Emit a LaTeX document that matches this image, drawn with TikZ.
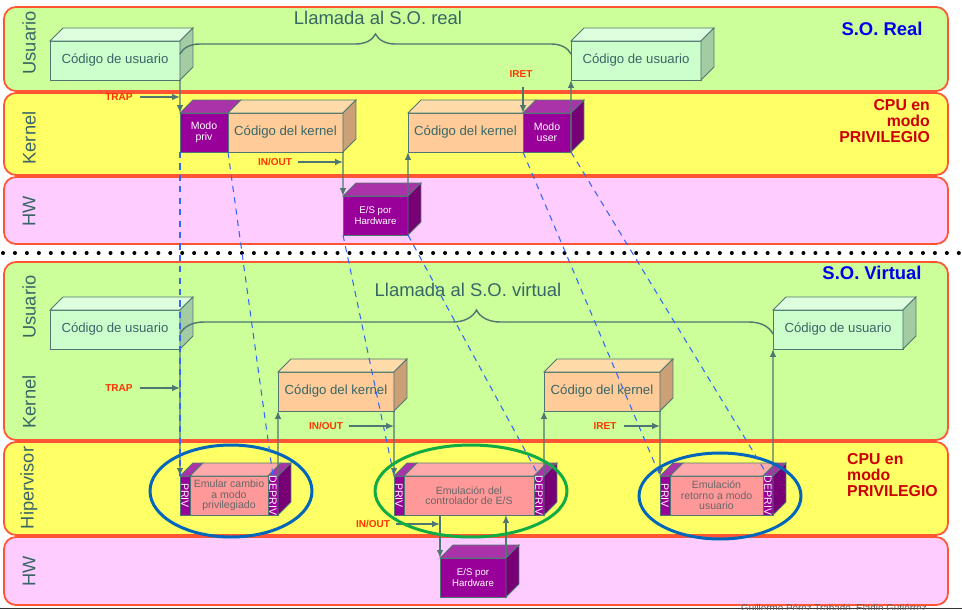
\documentclass[tikz,border=0pt]{standalone}
\usepackage{fontspec}
\setmainfont{Liberation Sans}
\usetikzlibrary{positioning,arrows.meta,decorations.pathreplacing}

\definecolor{verde}{RGB}{204,255,153}
\definecolor{amarillo}{RGB}{255,255,102}
\definecolor{rosa}{RGB}{255,204,255}
\definecolor{borde}{RGB}{255,85,51}
\definecolor{textoc}{RGB}{56,102,102}
\definecolor{linea}{RGB}{77,119,112}
\definecolor{ufront}{RGB}{204,255,204}
\definecolor{utop}{RGB}{221,255,221}
\definecolor{uside}{RGB}{163,204,163}
\definecolor{kfront}{RGB}{255,204,153}
\definecolor{ktop}{RGB}{255,219,170}
\definecolor{kside}{RGB}{204,160,119}
\definecolor{pfront}{RGB}{153,0,153}
\definecolor{ptop}{RGB}{170,51,170}
\definecolor{pside}{RGB}{119,0,119}
\definecolor{hfront}{RGB}{255,153,153}
\definecolor{htop}{RGB}{255,170,170}
\definecolor{azul}{RGB}{0,102,187}
\definecolor{verdeo}{RGB}{17,170,68}
\definecolor{trazo}{RGB}{51,102,255}
\definecolor{rojoet}{RGB}{255,51,0}
\definecolor{rojocpu}{RGB}{204,0,0}
\definecolor{azulso}{RGB}{0,0,238}

% caras de las cajas 3D
\newcommand{\tapa}[2]{\filldraw[draw=linea,line width=0.5pt,fill=#2] (#1.north west) -- ++(13,-13) -- ([shift={(13,-13)}]#1.north east) -- (#1.north east) -- cycle;}
\newcommand{\lado}[2]{\filldraw[draw=linea,line width=0.5pt,fill=#2] (#1.north east) -- ++(13,-13) -- ([shift={(13,-13)}]#1.south east) -- (#1.south east) -- cycle;}

\tikzset{
  banda/.style={draw=borde, line width=1pt, rounded corners=6.8pt},
  puntos/.style={line width=2.3pt, line cap=round, dash pattern=on 0pt off 6.8pt},
  etiq/.style={rotate=90, text=textoc, font=\fontsize{10.4}{12}\selectfont},
  titulo/.style={text=textoc, font=\fontsize{10.5}{12}\selectfont},
  so/.style={text=azulso, font=\bfseries\fontsize{10.5}{12}\selectfont},
  cpu/.style={text=rojocpu, font=\bfseries\fontsize{9}{9}\selectfont},
  rojo/.style={text=rojoet, inner sep=1pt, font=\bfseries\fontsize{5.7}{6}\selectfont},
  caja/.style={draw=linea, line width=0.5pt, inner sep=0pt, outer sep=0pt, anchor=north west,
    minimum height=0.78cm, align=center, text=textoc, font=\fontsize{7.5}{9}\selectfont},
  usr/.style={caja, fill=ufront, minimum width=2.6cm},
  ker/.style={caja, fill=kfront, minimum width=2.3cm},
  mod/.style={caja, fill=pfront, text=white, minimum width=0.96cm, font=\fontsize{6}{6}\selectfont},
  hw/.style={caja, fill=pfront, text=white, minimum width=1.3cm, font=\fontsize{5.5}{5.8}\selectfont},
  tira/.style={caja, fill=pfront, minimum width=0.2cm},
  emu/.style={caja, fill=hfront, text=black!60, font=\fontsize{6}{6}\selectfont},
  vtexto/.style={rotate=-90, text=white, inner sep=0pt, font=\fontsize{6}{6}\selectfont},
  flecha/.style={draw=linea, line width=0.8pt, ->},
  llave/.style={draw=linea, line width=0.8pt, decorate, decoration={brace, amplitude=0.4cm}},
  elipse/.style={line width=1.7pt},
  trazos/.style={draw=trazo, line width=0.6pt, dash pattern=on 3.5pt off 3pt},
}

\begin{document}
\begin{tikzpicture}[>={Latex[length=4.5pt,width=3.8pt]}, x=0.02cm, y=-0.02cm]
   \useasboundingbox (0,0) rectangle (962,609);

   % bandas
   \draw[banda, fill=verde] (4,7) rectangle (948,91);
   \draw[banda, fill=amarillo] (4,93) rectangle (948,175);
   \draw[banda, fill=rosa] (4,177) rectangle (948,244);
   \draw[puntos] (3,253) -- (962,253);
   \draw[banda, fill=verde] (4,262) rectangle (948,440);
   \draw[banda, fill=amarillo] (4,442) rectangle (948,535);
   \draw[banda, fill=rosa] (4,537) rectangle (948,605);
   \draw[black!80, line width=0.8pt] (0,608.5) -- (962,608.5);

   \node[etiq] (l1) at (29,43) {Usuario};
   \node[etiq] (l2) at (29,138) {Kernel};
   \node[etiq] (l3) at (29,211) {HW};
   \node[etiq] (l4) at (29,307) {Usuario};
   \node[etiq] (l5) at (29,402) {Kernel};
   \node[etiq] (l6) at (29,488) {Hipervisor};
   \node[etiq] (l7) at (29,571) {HW};

   \node[so] (so1) at (882,29) {S.O. Real};
   \node[cpu, align=right, anchor=east] (cpu1) at (936,121) {CPU en\\modo\\PRIVILEGIO};
   \node[so] (so2) at (872,273) {S.O. Virtual};
   \node[cpu, align=left, anchor=west] (cpu2) at (841,475) {CPU en\\modo\\PRIVILEGIO};

   % S.O. real
   \node[usr] (u1) at (50,41) {Código de usuario};
   \node[usr] (u2) at (571,41) {Código de usuario};
   \node[mod] (mp) at (180,113) {Modo\\priv};
   \node[ker, right=0pt of mp] (kc1) {Código del kernel};
   \node[ker] (kc2) at (408,113) {Código del kernel};
   \node[mod, right=0pt of kc2] (mu) {Modo\\user};
   \node[hw] (es1) at (343,196) {E/S por\\Hardware};
   \tapa{u1}{utop} \lado{u1}{uside}
   \tapa{u2}{utop} \lado{u2}{uside}
   \tapa{mp}{ptop} \tapa{kc1}{ktop} \lado{kc1}{kside}
   \tapa{kc2}{ktop} \tapa{mu}{ptop} \lado{mu}{pside}
   \tapa{es1}{ptop} \lado{es1}{pside}

   % S.O. virtual
   \node[usr] (v1) at (50,310) {Código de usuario};
   \node[usr] (v2) at (773,310) {Código de usuario};
   \node[ker, minimum width=2.32cm] (vk1) at (278,372) {Código del kernel};
   \node[ker, minimum width=2.32cm] (vk2) at (544,372) {Código del kernel};
   \node[tira] (p1) at (180,476) {};
   \node[emu, minimum width=1.56cm, right=0pt of p1] (b1) {Emular cambio\\a modo\\privilegiado};
   \node[tira, right=0pt of b1] (d1) {};
   \node[tira] (p2) at (394,476) {};
   \node[emu, minimum width=2.6cm, right=0pt of p2] (b2) {Emulación del\\controlador de E/S};
   \node[tira, right=0pt of b2] (d2) {};
   \node[tira] (p3) at (660,476) {};
   \node[emu, minimum width=1.86cm, right=0pt of p3] (b3) {Emulación\\retorno a modo\\usuario};
   \node[tira, right=0pt of b3] (d3) {};
   \node[hw, minimum width=1.32cm] (es2) at (440,558) {E/S por\\Hardware};
   \tapa{v1}{utop} \lado{v1}{uside}
   \tapa{v2}{utop} \lado{v2}{uside}
   \tapa{vk1}{ktop} \lado{vk1}{kside}
   \tapa{vk2}{ktop} \lado{vk2}{kside}
   \tapa{p1}{ptop} \tapa{b1}{htop} \tapa{d1}{ptop} \lado{d1}{pside}
   \tapa{p2}{ptop} \tapa{b2}{htop} \tapa{d2}{ptop} \lado{d2}{pside}
   \tapa{p3}{ptop} \tapa{b3}{htop} \tapa{d3}{ptop} \lado{d3}{pside}
   \tapa{es2}{ptop} \lado{es2}{pside}
   \node[vtexto] (tp1) at (p1.center) {PRIV};
   \node[vtexto] (td1) at (d1.center) {DEPRIV};
   \node[vtexto] (tp2) at (p2.center) {PRIV};
   \node[vtexto] (td2) at (d2.center) {DEPRIV};
   \node[vtexto] (tp3) at (p3.center) {PRIV};
   \node[vtexto] (td3) at (d3.center) {DEPRIV};

   % llamadas
   \draw[llave] (u1.east |- 0,54) -- (u2.west |- 0,54);
   \node[titulo] (ll1) at (378,18) {Llamada al S.O. real};
   \draw[llave, decoration={brace, amplitude=0.48cm}] (v1.east |- 0,334) -- (v2.west |- 0,334);
   \node[titulo] (ll2) at (468,290) {Llamada al S.O. virtual};

   % flujo real
   \node[rojo] (trap1) at (119,97) {TRAP};
   \node[rojo] (io1) at (275,162) {IN/OUT};
   \node[rojo] (iret1) at (521,74) {IRET};
   \draw[flecha] (u1.south east) -- (mp.north west);
   \draw[flecha] ([xshift=3pt]trap1.east) -- (trap1.east -| mp.west);
   \draw[flecha] ([xshift=2pt]io1.east) -- (io1.east -| kc1.east);
   \draw[flecha] (kc1.south east) -- (es1.north west);
   \draw[flecha] (es1.north east) -- (kc2.south west);
   \draw[flecha] ([yshift=-4pt]iret1.south -| mu.west) -- (mu.north west);
   \draw[flecha] (mu.south east) -- (u2.south west);

   % flujo virtual
   \node[rojo] (trap2) at (119,388) {TRAP};
   \node[rojo] (io2) at (326,426) {IN/OUT};
   \node[rojo] (iret2) at (605,426) {IRET};
   \node[rojo] (io3) at (373,524) {IN/OUT};
   \draw[flecha] (v1.south east) -- (p1.north west);
   \draw[flecha] ([xshift=3pt]trap2.east) -- (trap2.east -| p1.west);
   \draw[flecha] (d1.north east) -- (vk1.south west);
   \draw[flecha] ([xshift=2pt]io2.east) -- (io2.east -| vk1.east);
   \draw[flecha] (vk1.south east) -- (p2.north west);
   \draw[flecha] (d2.north east) -- (vk2.south west);
   \draw[flecha] ([xshift=3pt]iret2.east) -- (iret2.east -| vk2.east);
   \draw[flecha] (vk2.south east) -- (p3.north west);
   \draw[flecha] (d3.north east) -- (v2.south west);
   \draw[flecha] ([xshift=2pt]io3.east) -- (io3.east -| es2.west);
   \draw[flecha] (b2.south -| es2.west) -- (es2.north west);
   \draw[flecha] (es2.north east) -- (b2.south -| es2.east);

   \draw[elipse, draw=azul] (231,491) ellipse [x radius=1.62cm, y radius=0.92cm];
   \draw[elipse, draw=verdeo] (471,491) ellipse [x radius=1.92cm, y radius=0.92cm];
   \draw[elipse, draw=azul] (720,496) ellipse [x radius=1.62cm, y radius=0.86cm];

   % correspondencias
   \draw[trazos] (mp.south west) -- (p1.north west);
   \draw[trazos] (mp.south east) -- (d1.north);
   \draw[trazos] (es1.south west) -- (p2.north west);
   \draw[trazos] (es1.south east) -- (d2.north);
   \draw[trazos] (mu.south west) -- (p3.north west);
   \draw[trazos] (mu.south east) -- (d3.north);

   \node[text=black!65, font=\fontsize{5.6}{6}\selectfont, anchor=base] (pie) at (834,611.5) {Guillermo Pérez Trabado, Eladio Gutiérrez};
\end{tikzpicture}
\end{document}
